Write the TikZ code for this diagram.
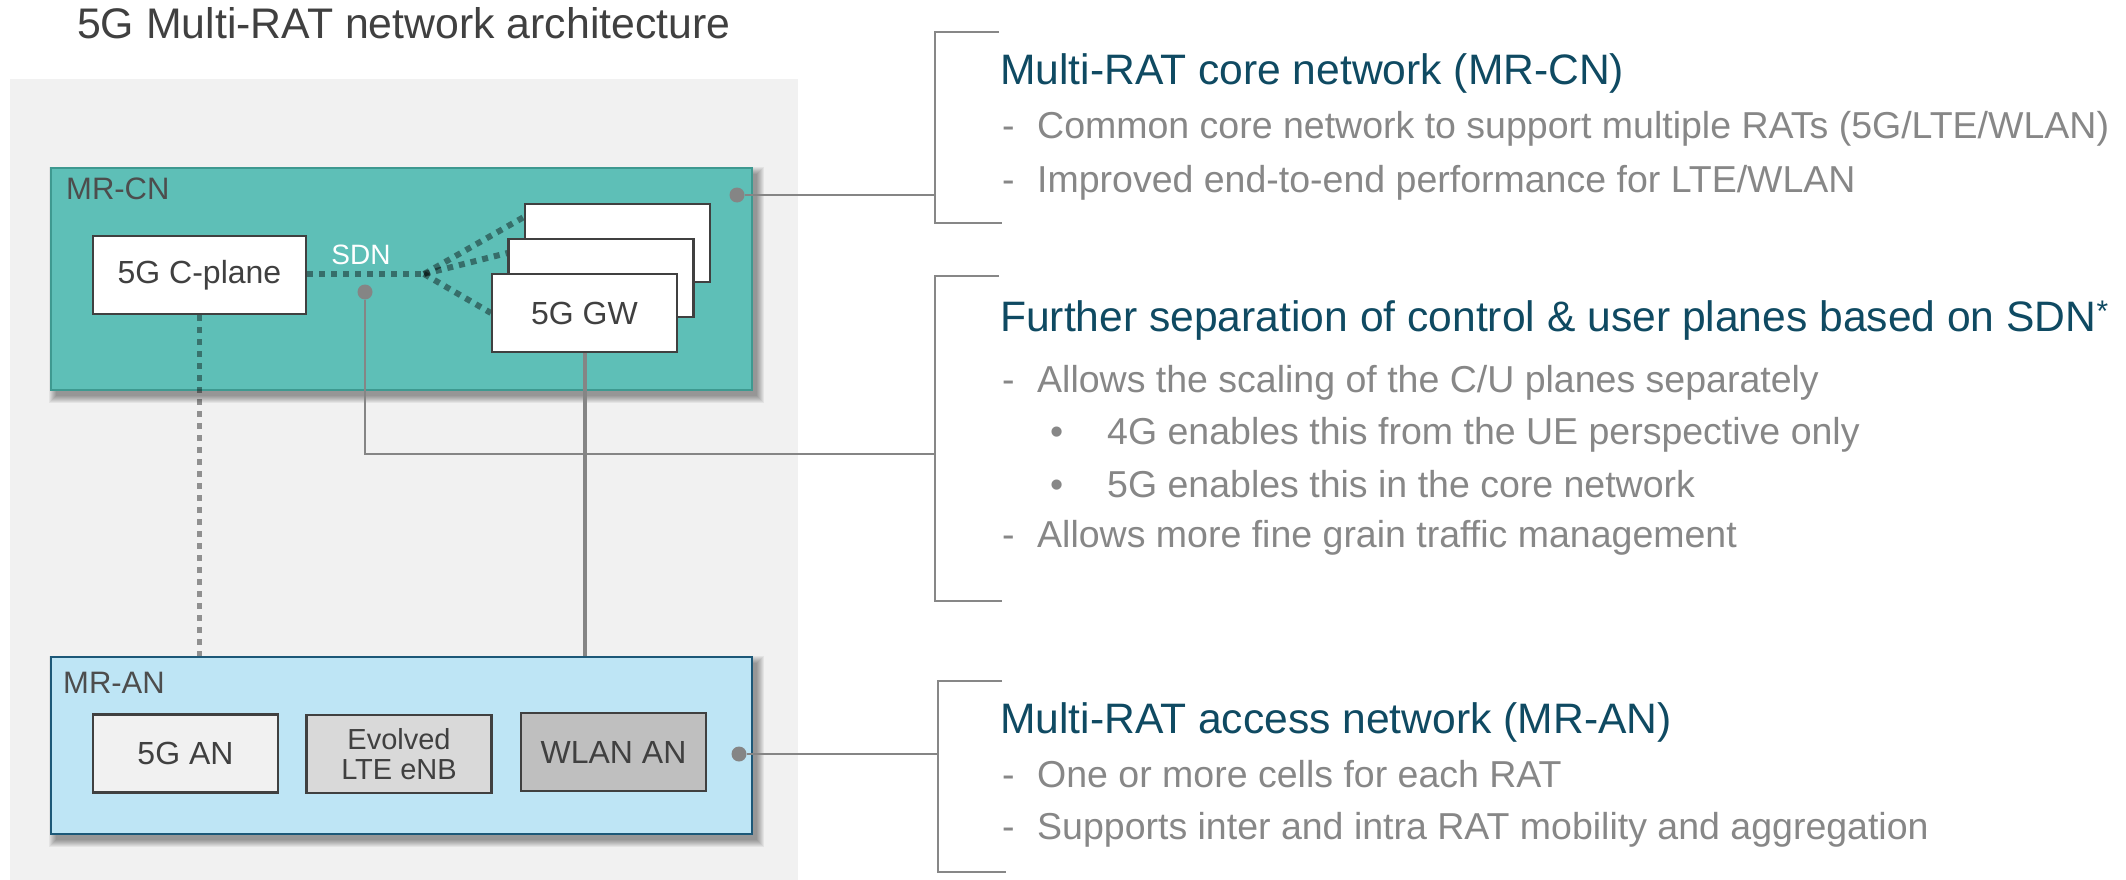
\documentclass[tikz,border=0pt]{standalone}
\usepackage{fontspec}
\setmainfont{Liberation Sans}

\definecolor{panelgray}{HTML}{F1F1F1}
\definecolor{cnfill}{HTML}{5EBFB7}
\definecolor{cnedge}{HTML}{3E9990}
\definecolor{anfill}{HTML}{BEE5F5}
\definecolor{anedge}{HTML}{1C5878}
\definecolor{boxedge}{HTML}{404040}
\definecolor{textdark}{HTML}{404040}
\definecolor{labelgray}{HTML}{4D4D4D}
\definecolor{wiregray}{HTML}{858585}
\definecolor{headblue}{HTML}{0F4A62}
\definecolor{bodygray}{HTML}{878787}
\definecolor{ltefill}{HTML}{D9D9D9}
\definecolor{wlanfill}{HTML}{BFBFBF}

\newcommand{\setfs}[1]{\fontsize{#1}{#1}\selectfont}
% soft drop shadow under a node: stacked translucent rectangles
\newcommand{\softshadow}[1]{%
  \foreach \r in {0,1,...,7}{%
    \fill[black, opacity=0.055]
      ([shift={(-2+\r,-1+\r)}]#1.north west) rectangle
      ([shift={(12-\r,13-\r)}]#1.south east);}}

\pgfdeclarelayer{panel}
\pgfdeclarelayer{frame}
\pgfdeclarelayer{wires}
\pgfsetlayers{panel,frame,wires,main}

\tikzset{
  inbox/.style={draw=boxedge, line width=2.2pt, inner sep=0pt,
    minimum width=185pt, minimum height=78pt, text=textdark,
    font=\setfs{32}, align=center},
  netbox/.style={line width=2.5pt, inner sep=0pt, minimum width=701pt},
  netlabel/.style={anchor=base west, inner sep=0pt, text=labelgray, font=\setfs{31}},
  dot/.style={circle, fill=wiregray, inner sep=0pt, minimum size=15pt},
  wire/.style={draw=wiregray, line width=2.5pt},
  gwlink/.style={draw=wiregray, line width=4pt},
  sdnlink/.style={draw=black, draw opacity=0.42, line width=6pt,
    dash pattern=on 6pt off 6pt},
  bracket/.style={draw=bodygray, line width=2pt},
  heading/.style={anchor=base west, inner sep=0pt, text=headblue, font=\setfs{42.6}},
  bodytext/.style={anchor=base west, inner sep=0pt, text=bodygray, font=\setfs{37.5}},
}

\begin{document}
\begin{tikzpicture}[x=1pt, y=-1pt]
\useasboundingbox (0,0) rectangle (2126,880);

% page background and grey panel behind the architecture
\begin{pgfonlayer}{panel}
  \fill[white] (0,0) rectangle (2126,880);
  \fill[panelgray] (10,79) rectangle (798,880);
\end{pgfonlayer}

% title
\node[anchor=base west, inner sep=0pt, text=textdark, font=\setfs{42.8}] (title)
  at (77,39) {5G Multi-RAT network architecture};

% the two network layers
\begin{pgfonlayer}{frame}
  \node[inner sep=0pt, minimum width=701pt, minimum height=222pt] (cnarea) at (401.5,279) {};
  \node[inner sep=0pt, minimum width=701pt, minimum height=177pt] (anarea) at (401.5,745.5) {};
  \softshadow{cnarea}
  \softshadow{anarea}
  \node[netbox, draw=cnedge, fill=cnfill, minimum height=222pt] (cn) at (401.5,279) {};
  \node[netbox, draw=anedge, fill=anfill, minimum height=177pt] (an) at (401.5,745.5) {};
\end{pgfonlayer}
\node[netlabel] (cnlabel) at (66,200) {MR-CN};
\node[netlabel] (anlabel) at (63,693) {MR-AN};

% core network functions
\node[inbox, fill=white, minimum width=213pt] (cp) at (199.5,275) {5G C-plane};
\node[inbox, fill=white] (gwb) at (617.5,243) {};
\node[inbox, fill=white] (gwm) at (601,278) {};
\node[inbox, fill=white] (gwf) at (584.5,313) {5G GW};
\node[anchor=base, inner sep=0pt, text=white, font=\setfs{28}] (sdn) at (361,264) {SDN};
\coordinate (sj) at (424,274);

% access network nodes
\node[inbox, fill=panelgray] (an5g) at (185.5,753.5) {5G AN};
\node[inbox, fill=ltefill, font=\setfs{29}, text=textdark] (lte) at (399,754)
  {Evolved\\[1pt]LTE eNB};
\node[inbox, fill=wlanfill] (wlan) at (613.5,752) {WLAN AN};

% attachment dots
\node[dot] (cndot) at (737,195) {};
\node[dot] (sdndot) at (365,292) {};
\node[dot] (andot) at (739,754) {};

% bracket anchor points
\coordinate (b1) at (935,195);
\coordinate (b2) at (935,454);
\coordinate (b3) at (938,754);

\begin{pgfonlayer}{wires}
  % SDN fabric between control plane and gateways
  \draw[sdnlink] (cp.east |- sj) -- (sj);
  \draw[sdnlink] (sj) -- ([yshift=26pt]gwb.west);
  \draw[sdnlink] (sj) -- ([yshift=25pt]gwm.west);
  \draw[sdnlink] (sj) -- (gwf.west);
  % control and user plane links down to the access network
  \draw[sdnlink, draw opacity=0.4, line width=5pt] (cp.south) -- (cp.south |- an.north);
  \draw[gwlink] (gwf.south) -- (gwf.south |- an.north);
  % callouts
  \draw[wire] (cndot) -- (b1);
  \draw[wire] (sdndot) |- (b2);
  \draw[wire] (andot) -- (b3);
\end{pgfonlayer}

% brackets
\draw[bracket] (999,32) -- (935,32) -- (935,223) -- (1002,223);
\draw[bracket] (999,276) -- (935,276) -- (935,601) -- (1002,601);
\draw[bracket] (1002,681) -- (938,681) -- (938,872) -- (1006,872);

% description: core network
\node[heading] (h1) at (1000,85) {Multi-RAT core network (MR-CN)};
\node[bodytext] (d1a) at (1002,139) {-};
\node[bodytext] (t1a) at (1037,139) {Common core network to support multiple RATs (5G/LTE/WLAN)};
\node[bodytext] (d1b) at (1002,192) {-};
\node[bodytext] (t1b) at (1037,192) {Improved end-to-end performance for LTE/WLAN};

% description: SDN split
\node[heading] (h2) at (1000,331) {Further separation of control \& user planes based on SDN\textsuperscript{*}};
\node[bodytext] (d2a) at (1002,392) {-};
\node[bodytext] (t2a) at (1037,392) {Allows the scaling of the C/U planes separately};
\node[bodytext] (s2a) at (1050,444) {•};
\node[bodytext] (t2b) at (1107,444) {4G enables this from the UE perspective only};
\node[bodytext] (s2b) at (1050,497) {•};
\node[bodytext] (t2c) at (1107,497) {5G enables this in the core network};
\node[bodytext] (d2d) at (1002,547) {-};
\node[bodytext] (t2d) at (1037,547) {Allows more fine grain traffic management};

% description: access network
\node[heading] (h3) at (1000,733) {Multi-RAT access network (MR-AN)};
\node[bodytext] (d3a) at (1002,787) {-};
\node[bodytext] (t3a) at (1037,787) {One or more cells for each RAT};
\node[bodytext] (d3b) at (1002,839) {-};
\node[bodytext] (t3b) at (1037,839) {Supports inter and intra RAT mobility and aggregation};
\end{tikzpicture}
\end{document}
